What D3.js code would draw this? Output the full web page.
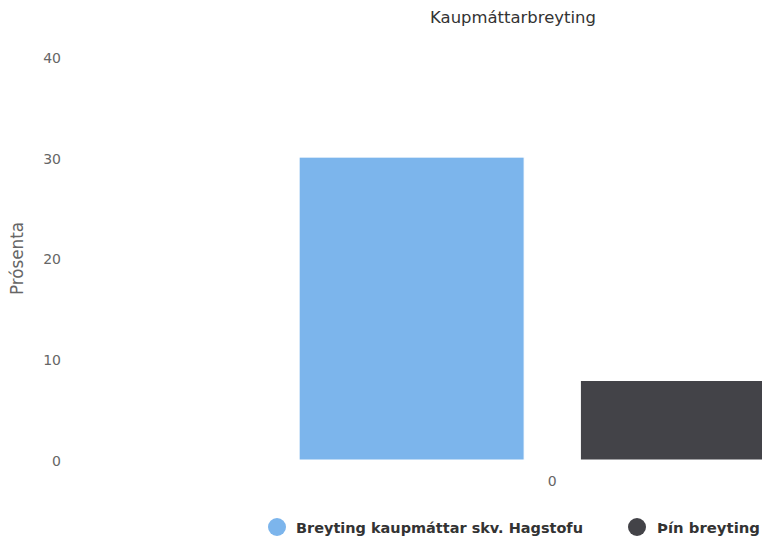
<!DOCTYPE html>
<html>
<head>
<meta charset="utf-8">
<script src="https://cdn.jsdelivr.net/npm/d3@7"></script>
<style>
  html, body { margin: 0; padding: 0; background: #fff; overflow: hidden; }
  svg { display: block; font-family: "DejaVu Sans", "Lucida Grande", sans-serif; }
</style>
</head>
<body>
<svg id="chart" width="762" height="542"></svg>
<script>
const title = "Kaupmáttarbreyting";
const yAxisTitle = "Prósenta";
const categories = ["0"];
const seriesNames = ["Breyting kaupmáttar skv. Hagstofu", "Þín breyting"];
const seriesColors = ["#7cb5ec", "#434348"];
const seriesValues = [[30.1], [7.9]];
const yTicks = [0, 10, 20, 30, 40];

const svg = d3.select("#chart");
const plotLeft = 83.5, plotRight = 1021, plotTop = 57.5, plotBottom = 460;

function fitText(sel, target) {
  const fs = parseFloat(sel.attr("font-size"));
  const w = sel.node().getComputedTextLength();
  if (w > 0) sel.attr("font-size", (fs * target / w).toFixed(2));
  return sel;
}

const y = d3.scaleLinear().domain([0, 40]).range([plotBottom, plotTop]);
const x0 = d3.scaleBand().domain(categories).range([plotLeft, plotRight]).padding(0);
const bw = x0.bandwidth();
const x1 = d3.scaleBand().domain(seriesNames)
  .range([0.2 * bw, 0.8 * bw]).paddingInner(0.2).paddingOuter(0.1);

// title
fitText(svg.append("text").attr("x", 513).attr("y", 23).attr("text-anchor", "middle")
  .attr("font-size", 15).attr("fill", "#333333").text(title), 166);

// y axis (labels only)
const yAxis = d3.axisLeft(y).tickValues(yTicks).tickSize(0).tickPadding(0);
const yg = svg.append("g").attr("transform", `translate(61,0)`).call(yAxis);
yg.select(".domain").remove();
yg.selectAll("text").attr("font-size", 14).attr("fill", "#666666")
  .attr("font-family", "DejaVu Sans, sans-serif").attr("dy", "0.36em");

// y axis title
fitText(svg.append("text").attr("transform", `translate(23,258.5) rotate(-90)`)
  .attr("text-anchor", "middle").attr("font-size", 15).attr("fill", "#666666").text(yAxisTitle), 73);

// bars
const groups = svg.append("g").selectAll("g").data(categories).join("g")
  .attr("transform", d => `translate(${x0(d)},0)`);
seriesNames.forEach((name, si) => {
  groups.append("rect")
    .attr("x", x1(name))
    .attr("y", (d, ci) => y(seriesValues[si][ci]))
    .attr("width", x1.bandwidth())
    .attr("height", (d, ci) => y(0) - y(seriesValues[si][ci]))
    .attr("fill", seriesColors[si])
    .attr("stroke", "#ffffff").attr("stroke-width", 1);
});

// x axis labels
const xAxis = d3.axisBottom(x0).tickSize(0).tickPadding(0);
const xg = svg.append("g").attr("transform", `translate(0,481)`).call(xAxis);
xg.select(".domain").remove();
xg.selectAll("text").attr("font-size", 14).attr("fill", "#666666")
  .attr("font-family", "DejaVu Sans, sans-serif").attr("dy", "0.36em");

// legend
const legendItems = [
  { cx: 277, tx: 296, tw: 287 },
  { cx: 637, tx: 657, tw: 103 }
];
seriesNames.forEach((name, i) => {
  const it = legendItems[i];
  svg.append("circle").attr("cx", it.cx).attr("cy", 527).attr("r", 9)
    .attr("fill", seriesColors[i]);
  fitText(svg.append("text").attr("x", it.tx).attr("y", 532.5)
    .attr("font-size", 14).attr("font-weight", "bold").attr("fill", "#333333").text(name), it.tw);
});
</script>
</body>
</html>
